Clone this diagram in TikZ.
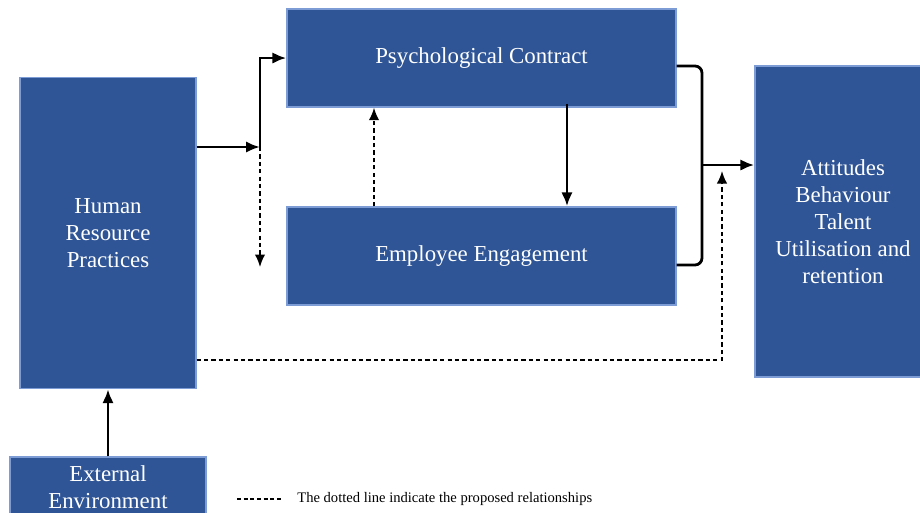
\documentclass[tikz,border=0pt]{standalone}
\usepackage{fontspec}
\setmainfont{Liberation Serif}
\usetikzlibrary{arrows.meta}
\definecolor{boxblue}{RGB}{47,85,151}
\definecolor{edgeblue}{RGB}{125,155,212}
\tikzset{
  block/.style={draw=edgeblue, line width=0.8pt, fill=boxblue, text=white, align=center,
    font=\fontsize{13}{15.3}\selectfont, inner sep=0pt},
  link/.style={-{Latex[length=2.8mm,width=2.3mm]}, line width=1.6pt},
  proposed/.style={-{Latex[length=2.5mm,width=2.1mm]}, line width=1pt, dash pattern=on 2.4pt off 1.8pt}
}
\begin{document}
\begin{tikzpicture}[x=0.02cm,y=-0.02cm]
\useasboundingbox (0,0) rectangle (920,512);
\clip (0,0) rectangle (920,512);
% boxes
\node[block, minimum width=3.52cm, minimum height=6.22cm] (hrp) at (108,233) {Human\\Resource\\Practices};
\node[block, minimum width=7.78cm, minimum height=1.96cm] (pc) at (481.5,58) {\raisebox{-2pt}{Psychological Contract}};
\node[block, minimum width=7.78cm, minimum height=1.96cm] (ee) at (481.5,256) {\raisebox{-2pt}{Employee Engagement}};
\node[block, minimum width=3.52cm, minimum height=6.22cm] (out) at (843,221.5) {Attitudes\\Behaviour\\Talent\\Utilisation and\\retention};
\node[block, minimum width=3.92cm, minimum height=1.2cm] (ext) at (108,487) {External\\Environment};
% joints
\coordinate (split) at (260,147);
\coordinate (splitend) at (260,267);
\coordinate (join) at (702,165);
\coordinate (target) at (722,171);
% links
\draw[link] (hrp.east |- split) -- (split);
\draw[link] (split) |- (pc.west);
\draw[proposed] (split) -- (splitend);
\draw[proposed] ([xshift=-2.15cm]ee.north) -- ([xshift=-2.15cm]pc.south);
\draw[link] ([xshift=1.71cm,yshift=0.08cm]pc.south) -- ([xshift=1.71cm]ee.north);
\draw[line width=1.6pt, rounded corners=4pt] ([yshift=-0.16cm]pc.east) -| (join) |- ([yshift=-0.18cm]ee.east);
\draw[link] (join) -- (out.west |- join);
\draw[proposed] (hrp.east |- 0,360) -| (target);
\draw[link] (ext.north) -- (hrp.south);
% legend
\coordinate (keyA) at (237,499);
\coordinate (keyB) at (282,499);
\draw[line width=0.6pt, dash pattern=on 2.2pt off 1.6pt] (keyA) -- (keyB);
\node[right, font=\fontsize{8.3}{9}\selectfont, inner sep=0pt] (legend) at (297,499) {The dotted line indicate the proposed relationships};
\end{tikzpicture}
\end{document}
